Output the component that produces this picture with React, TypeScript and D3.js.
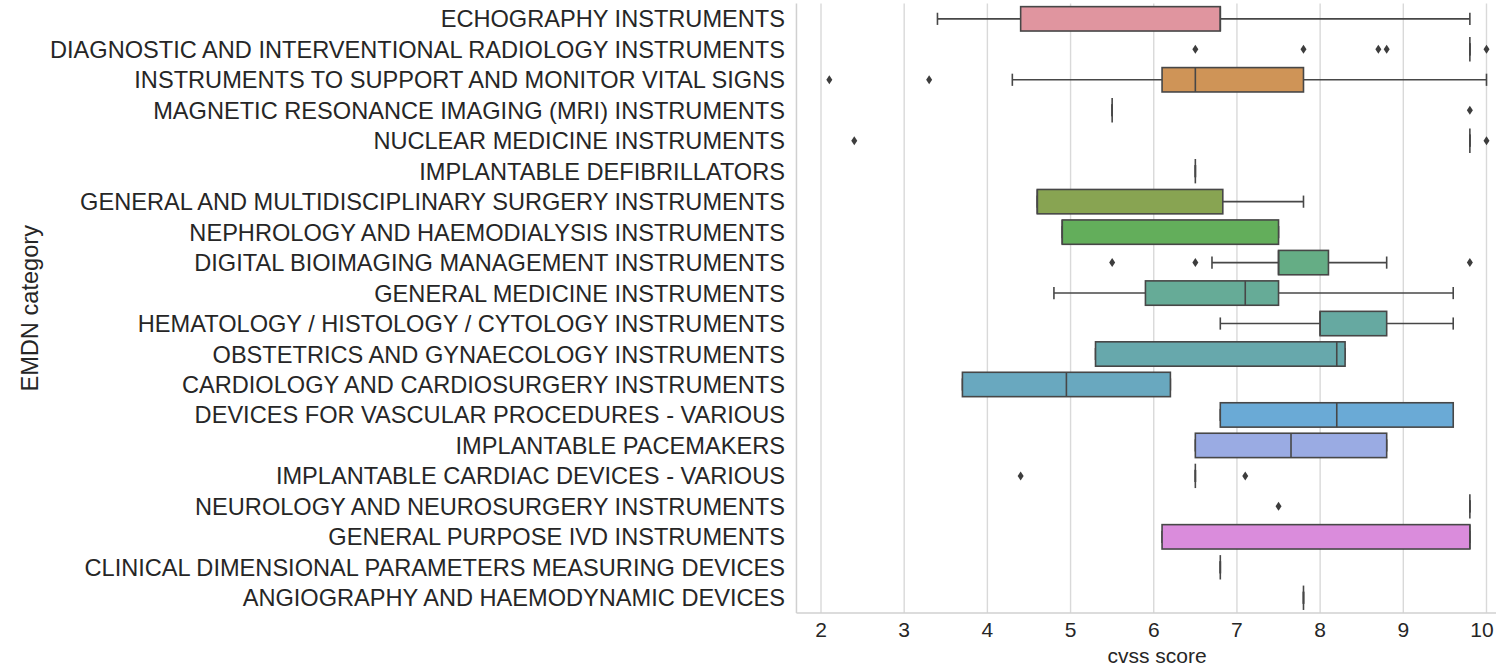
import React from 'react';
import * as d3 from 'd3';

const categories = [
  'ECHOGRAPHY INSTRUMENTS',
  'DIAGNOSTIC AND INTERVENTIONAL RADIOLOGY INSTRUMENTS',
  'INSTRUMENTS TO SUPPORT AND MONITOR VITAL SIGNS',
  'MAGNETIC RESONANCE IMAGING (MRI) INSTRUMENTS',
  'NUCLEAR MEDICINE INSTRUMENTS',
  'IMPLANTABLE DEFIBRILLATORS',
  'GENERAL AND MULTIDISCIPLINARY SURGERY INSTRUMENTS',
  'NEPHROLOGY AND HAEMODIALYSIS INSTRUMENTS',
  'DIGITAL BIOIMAGING MANAGEMENT INSTRUMENTS',
  'GENERAL MEDICINE INSTRUMENTS',
  'HEMATOLOGY / HISTOLOGY / CYTOLOGY INSTRUMENTS',
  'OBSTETRICS AND GYNAECOLOGY INSTRUMENTS',
  'CARDIOLOGY AND CARDIOSURGERY INSTRUMENTS',
  'DEVICES FOR VASCULAR PROCEDURES - VARIOUS',
  'IMPLANTABLE PACEMAKERS',
  'IMPLANTABLE CARDIAC DEVICES - VARIOUS',
  'NEUROLOGY AND NEUROSURGERY INSTRUMENTS',
  'GENERAL PURPOSE IVD INSTRUMENTS',
  'CLINICAL DIMENSIONAL PARAMETERS MEASURING DEVICES',
  'ANGIOGRAPHY AND HAEMODYNAMIC DEVICES',
];

const whiskerLow = [3.4, 9.8, 4.3, 5.5, 9.8, 6.5, 4.6, 4.9, 6.7, 4.8, 6.8, 5.3, 3.7, 6.8, 6.5, 6.5, 9.8, 6.1, 6.8, 7.8];
const q1 = [4.4, 9.8, 6.1, 5.5, 9.8, 6.5, 4.6, 4.9, 7.5, 5.9, 8.0, 5.3, 3.7, 6.8, 6.5, 6.5, 9.8, 6.1, 6.8, 7.8];
const median = [6.8, 9.8, 6.5, 5.5, 9.8, 6.5, 4.6, 4.9, 7.5, 7.1, 8.0, 8.2, 4.95, 8.2, 7.65, 6.5, 9.8, 9.8, 6.8, 7.8];
const q3 = [6.8, 9.8, 7.8, 5.5, 9.8, 6.5, 6.83, 7.5, 8.1, 7.5, 8.8, 8.3, 6.2, 9.6, 8.8, 6.5, 9.8, 9.8, 6.8, 7.8];
const whiskerHigh = [9.8, 9.8, 10.0, 5.5, 9.8, 6.5, 7.8, 7.5, 8.8, 9.6, 9.6, 8.3, 6.2, 9.6, 8.8, 6.5, 9.8, 9.8, 6.8, 7.8];
const outliers = [
  [], [6.5, 7.8, 8.7, 8.8, 10.0], [2.1, 3.3], [9.8], [2.4, 10.0], [],
  [], [], [5.5, 6.5, 9.8], [], [], [], [], [], [], [4.4, 7.1], [7.5], [], [], [],
];
const colors = [
  '#e0959f', '#d9928a', '#cf9457', '#bd9a52', '#aa9e50', '#97a150', '#88a452',
  '#63ae5b', '#65ad85', '#66ab97', '#66a9a1', '#67a8ac', '#69a8bf', '#6aaad6',
  '#9aabe3', '#b49fe5', '#c896e2', '#da8cdc', '#de8fc9', '#e093b3',
];
const xTicks = [2, 3, 4, 5, 6, 7, 8, 9, 10];

const width = 1496;
const height = 667;
const font = 'Liberation Sans, Arial, sans-serif';
const textColor = '#262626';
const edge = '#474747';

function App() {
  const xScale = d3.scaleLinear().domain([2, 10]).range([821, 1486.5]);
  const xLeft = xScale(1.705);
  const xRight = xScale(10.395);
  const top = 3.6;
  const bottom = 613;
  const yScale = d3.scaleBand().domain(categories).range([top, bottom]).paddingInner(0.2).paddingOuter(0.1);
  const bw = yScale.bandwidth();

  const diamond = 'M0,-4.5 L3,0 L0,4.5 L-3,0 Z';

  return (
    <svg width={width} height={height} style={{ position: 'absolute', left: 0, top: 0, background: '#fff' }}>
      {xTicks.map((t) => (
        <line key={'g' + t} x1={xScale(t)} x2={xScale(t)} y1={top} y2={bottom} stroke="#d9d9d9" strokeWidth={1.4} />
      ))}
      <line x1={xLeft} x2={xLeft} y1={top} y2={bottom} stroke="#d0d0d0" strokeWidth={1.5} />
      <line x1={xLeft} x2={xRight} y1={bottom} y2={bottom} stroke="#d0d0d0" strokeWidth={1.5} />

      {categories.map((c, i) => {
        const y0 = yScale(c) as number;
        const yc = y0 + bw / 2;
        const capH = bw / 4;
        return (
          <g key={c}>
            <line x1={xScale(whiskerLow[i])} x2={xScale(q1[i])} y1={yc} y2={yc} stroke={edge} strokeWidth={1.6} />
            <line x1={xScale(q3[i])} x2={xScale(whiskerHigh[i])} y1={yc} y2={yc} stroke={edge} strokeWidth={1.6} />
            <line x1={xScale(whiskerLow[i])} x2={xScale(whiskerLow[i])} y1={yc - capH} y2={yc + capH} stroke={edge} strokeWidth={1.6} />
            <line x1={xScale(whiskerHigh[i])} x2={xScale(whiskerHigh[i])} y1={yc - capH} y2={yc + capH} stroke={edge} strokeWidth={1.6} />
            <rect
              x={xScale(q1[i])}
              y={y0}
              width={xScale(q3[i]) - xScale(q1[i])}
              height={bw}
              fill={colors[i]}
              stroke={edge}
              strokeWidth={1.6}
            />
            <line x1={xScale(median[i])} x2={xScale(median[i])} y1={y0} y2={y0 + bw} stroke={edge} strokeWidth={1.6} />
            {outliers[i].map((v, j) => (
              <path key={j} d={diamond} transform={`translate(${xScale(v)},${yc})`} fill="#3d3d3d" />
            ))}
            <text x={785} y={yc} dy="0.36em" textAnchor="end" fontFamily={font} fontSize={23.6} fill={textColor}>
              {c}
            </text>
          </g>
        );
      })}

      {xTicks.map((t) => (
        <text
          key={'t' + t}
          x={Math.min(xScale(t), 1482)}
          y={629}
          dy="0.36em"
          textAnchor="middle"
          fontFamily={font}
          fontSize={21}
          fill={textColor}
        >
          {t}
        </text>
      ))}
      <text x={1157} y={655} dy="0.36em" textAnchor="middle" fontFamily={font} fontSize={21} fill={textColor}>
        cvss score
      </text>
      <text
        transform={`translate(29,${(top + bottom) / 2}) rotate(-90)`}
        dy="0.36em"
        textAnchor="middle"
        fontFamily={font}
        fontSize={23.6}
        fill={textColor}
      >
        EMDN category
      </text>
    </svg>
  );
}

export default App;
